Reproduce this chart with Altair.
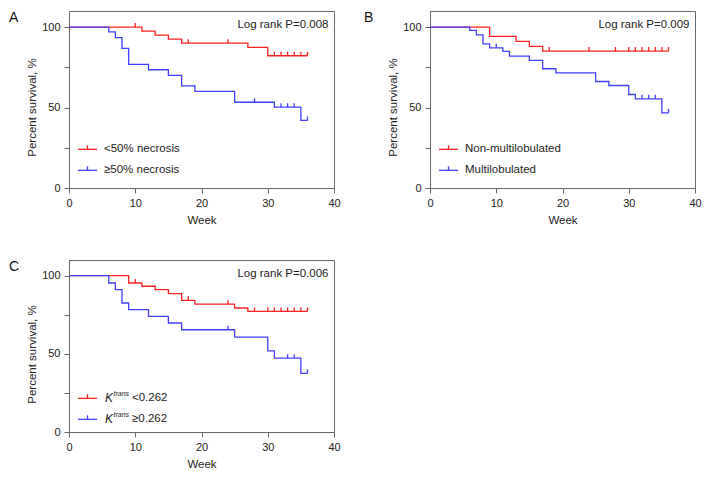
import altair as alt
import pandas as pd

RED = "#ff2020"
BLUE = "#4040ff"
FONT = "Liberation Sans"

# ---------------- data ----------------
# Panel A
a_low_weeks = [0, 11, 13, 15, 17, 27, 30, 36]
a_low_surv = [100, 97.5, 95, 92.5, 90, 87.4, 82.2, 82.2]
a_low_cens_weeks = [10, 18, 24, 31, 32, 33, 34, 35, 36]
a_low_cens_surv = [100, 90, 90, 82.2, 82.2, 82.2, 82.2, 82.2, 82.2]

a_high_weeks = [0, 6, 7, 8, 9, 12, 15, 17, 19, 25, 31, 35, 36]
a_high_surv = [100, 97, 93.5, 86.8, 76.8, 73.5, 70, 63.5, 60, 53.3, 50.2, 42, 42]
a_high_cens_weeks = [28, 32, 33, 34, 36]
a_high_cens_surv = [53.3, 50.2, 50.2, 50.2, 42]

# Panel B
b_non_weeks = [0, 9, 13, 15, 17, 36]
b_non_surv = [100, 94.2, 91.1, 88, 85.1, 85.1]
b_non_cens_weeks = [18, 24, 28, 30, 31, 32, 33, 34, 35, 36]
b_non_cens_surv = [85.1] * 10

b_mul_weeks = [0, 6, 7, 8, 9, 11, 12, 15, 17, 19, 25, 27, 30, 31, 35, 36]
b_mul_surv = [100, 97.9, 95.2, 89.6, 87.1, 84.9, 82, 79.3, 74.1, 71.6, 66.2, 63.7, 58.1, 55.4, 46.7, 46.7]
b_mul_cens_weeks = [10, 32, 33, 34, 36]
b_mul_cens_surv = [87.1, 55.4, 55.4, 55.4, 46.7]

# Panel C
c_low_weeks = [0, 9, 11, 13, 15, 17, 19, 25, 27, 36]
c_low_surv = [100, 95.3, 93.2, 91.0, 88.5, 84.2, 81.8, 79.3, 77.1, 77.1]
c_low_cens_weeks = [10, 18, 24, 28, 30, 31, 32, 33, 34, 35, 36]
c_low_cens_surv = [95.3, 84.2, 81.8, 77.1, 77.1, 77.1, 77.1, 77.1, 77.1, 77.1, 77.1]

c_high_weeks = [0, 6, 7, 8, 9, 12, 15, 17, 25, 30, 31, 35, 36]
c_high_surv = [100, 95.3, 91.0, 82.5, 78.2, 73.9, 69.7, 65.4, 60.7, 51.9, 47.2, 37.5, 37.5]
c_high_cens_weeks = [24, 33, 34, 36]
c_high_cens_surv = [65.4, 47.2, 47.2, 37.5]

x_ticks = [0, 10, 20, 30, 40]
y_ticks = [0, 25, 50, 75, 100]

W = 265


def make_panel(letter, g1, g2, curves, censors, pval, legend_kind, label_x, H, title_y):
    line_df = pd.concat(
        [pd.DataFrame({"week": w, "surv": s, "group": g}) for (w, s, g) in curves],
        ignore_index=True,
    )
    cens_df = pd.concat(
        [pd.DataFrame({"week": w, "surv": s, "group": g}) for (w, s, g) in censors],
        ignore_index=True,
    )
    xs = alt.Scale(domain=[0, 40], nice=False, zero=False)
    ys = alt.Scale(domain=[0, 110], nice=False)
    col = alt.Color("group:N", scale=alt.Scale(domain=[g1, g2], range=[RED, BLUE]), legend=None)
    xaxis = alt.Axis(
        values=x_ticks, grid=False, tickSize=5, labelPadding=4, labelFontSize=11,
        labelColor="#222", domainColor="#666", tickColor="#666", title="Week",
        titleFontSize=11.5, titleFontWeight="normal", titleColor="#222",
        titleY=26, titleBaseline="top", labelFlush=False,
    )
    yaxis = alt.Axis(
        values=y_ticks, grid=False, tickSize=5, labelPadding=4, labelFontSize=11,
        labelColor="#222", domainColor="#666", tickColor="#666",
        labelExpr="datum.value % 50 == 0 ? datum.label : ''",
        title="Percent survival, %", titleFontSize=11.5, titleFontWeight="normal",
        titleColor="#222", titleX=-34, titleY=title_y, titleBaseline="alphabetic",
        titleAngle=-90, titleAlign="center",
    )
    lines = alt.Chart(line_df).mark_line(interpolate="step-after", strokeWidth=1.3).encode(
        x=alt.X("week:Q", scale=xs, axis=xaxis),
        y=alt.Y("surv:Q", scale=ys, axis=yaxis),
        color=col,
    )
    ticks = alt.Chart(cens_df).mark_point(
        shape="M0,0L0,-1", size=64, filled=False, strokeWidth=1.3, opacity=1
    ).encode(
        x=alt.X("week:Q", scale=xs),
        y=alt.Y("surv:Q", scale=ys),
        color=col,
    )
    one = pd.DataFrame({"a": [0]})
    layers = [lines, ticks]
    # legend
    for i, (g, c) in enumerate([(g1, RED), (g2, BLUE)]):
        yy = 138.3 + 21 * i
        layers.append(alt.Chart(one).mark_rule(color=c, strokeWidth=1.3).encode(
            x=alt.value(9), x2=alt.value(28), y=alt.value(yy)))
        layers.append(alt.Chart(one).mark_rule(color=c, strokeWidth=1.3).encode(
            x=alt.value(18.5), y=alt.value(yy - 4), y2=alt.value(yy)))
        if legend_kind == "k":
            sym = "<0.262" if i == 0 else "\u22650.262"
            layers.append(alt.Chart(one).mark_text(
                align="left", baseline="middle", fontSize=12, fontStyle="italic",
                color="#222", font=FONT).encode(
                x=alt.value(36), y=alt.value(yy), text=alt.value("K")))
            layers.append(alt.Chart(one).mark_text(
                align="left", baseline="middle", fontSize=7, fontStyle="italic",
                color="#222", font=FONT).encode(
                x=alt.value(44.5), y=alt.value(yy - 4), text=alt.value("trans")))
            layers.append(alt.Chart(one).mark_text(
                align="left", baseline="middle", fontSize=11.5, color="#222", font=FONT).encode(
                x=alt.value(63), y=alt.value(yy), text=alt.value(sym)))
        else:
            layers.append(alt.Chart(one).mark_text(
                align="left", baseline="middle", fontSize=11.5, color="#222", font=FONT).encode(
                x=alt.value(35), y=alt.value(yy), text=alt.value(g)))
    layers.append(alt.Chart(one).mark_text(
        align="right", baseline="middle", fontSize=11.5, color="#222", font=FONT).encode(
        x=alt.value(259.5), y=alt.value(13.5), text=alt.value(pval)))
    layers.append(alt.Chart(one).mark_text(
        align="left", baseline="top", fontSize=14, color="#111", font=FONT).encode(
        x=alt.value(label_x), y=alt.value(0), text=alt.value(letter)))
    return alt.layer(*layers).properties(width=W, height=H)


pA = make_panel(
    "A", "<50% necrosis", "\u226550% necrosis",
    [(a_low_weeks, a_low_surv, "<50% necrosis"), (a_high_weeks, a_high_surv, "\u226550% necrosis")],
    [(a_low_cens_weeks, a_low_cens_surv, "<50% necrosis"),
     (a_high_cens_weeks, a_high_cens_surv, "\u226550% necrosis")],
    "Log rank P=0.008", "text", -60, 177, 96,
)
pB = make_panel(
    "B", "Non-multilobulated", "Multilobulated",
    [(b_non_weeks, b_non_surv, "Non-multilobulated"), (b_mul_weeks, b_mul_surv, "Multilobulated")],
    [(b_non_cens_weeks, b_non_cens_surv, "Non-multilobulated"),
     (b_mul_cens_weeks, b_mul_cens_surv, "Multilobulated")],
    "Log rank P=0.009", "text", -66, 177, 96,
)
pC = make_panel(
    "C", "Ktrans <0.262", "Ktrans \u22650.262",
    [(c_low_weeks, c_low_surv, "Ktrans <0.262"), (c_high_weeks, c_high_surv, "Ktrans \u22650.262")],
    [(c_low_cens_weeks, c_low_cens_surv, "Ktrans <0.262"),
     (c_high_cens_weeks, c_high_cens_surv, "Ktrans \u22650.262")],
    "Log rank P=0.006", "k", -60, 172, 94,
)

chart = alt.concat(
    pA, pB, pC, columns=2, spacing={"row": 72, "column": 96}, bounds="flush"
).properties(
    padding={"left": 0, "top": 2, "right": 5, "bottom": 5}
).configure(
    font=FONT, padding={"left": 0, "top": 2, "right": 5, "bottom": 5}
).configure_view(stroke="#666", strokeWidth=1)

chart.save("out.html", embed_options={"renderer": "svg", "actions": False})
